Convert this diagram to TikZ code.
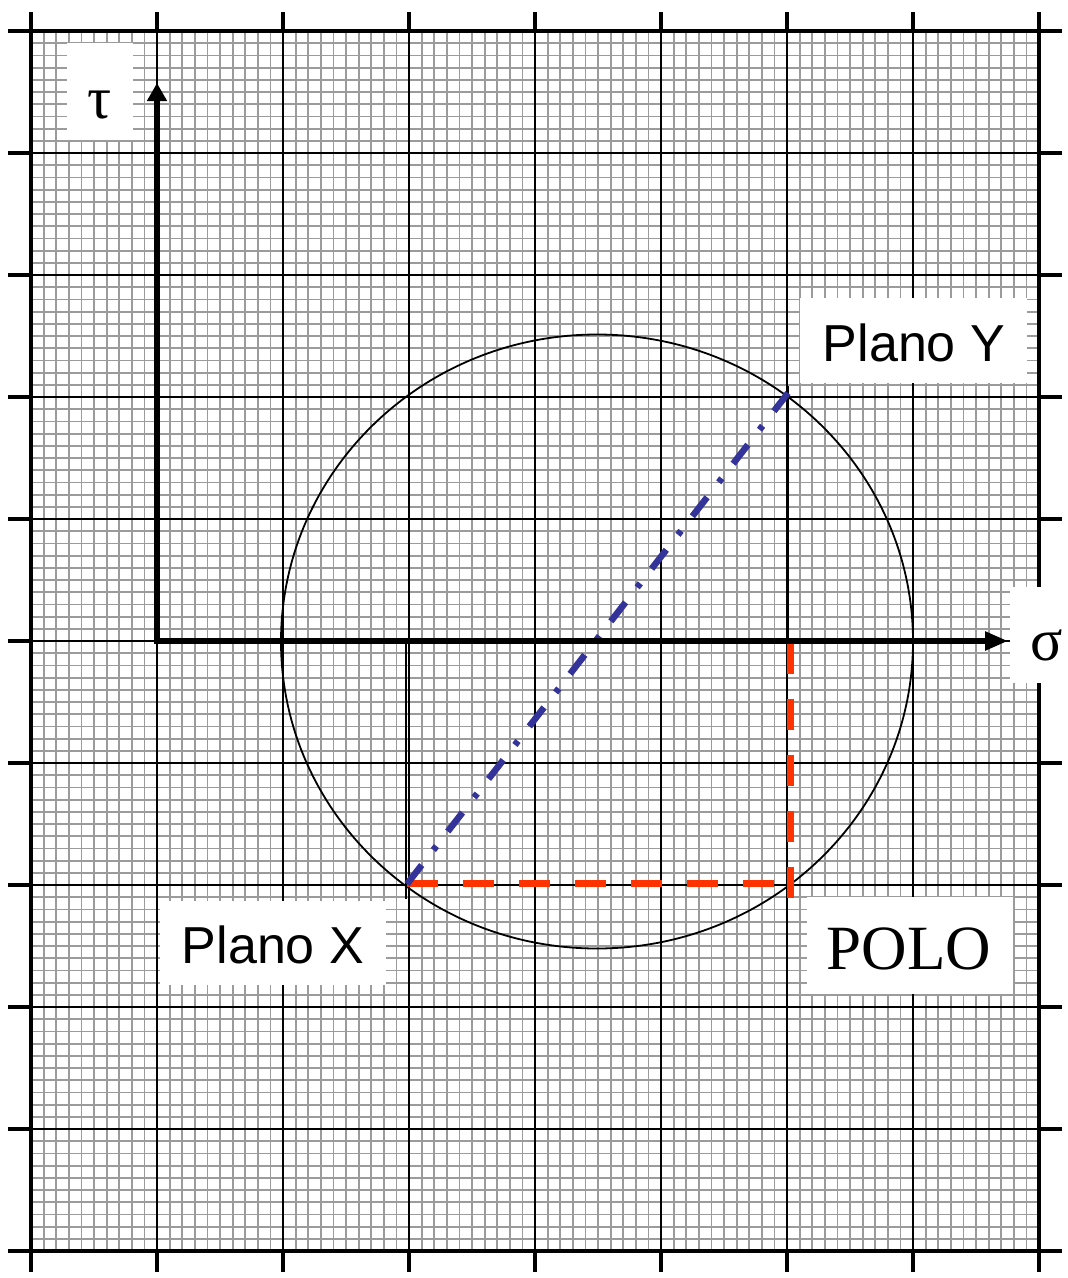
\documentclass[tikz,border=0pt]{standalone}
\usepackage{fontspec}
\setmainfont{Liberation Serif}
\newfontfamily\arialfont{Liberation Sans}
\usetikzlibrary{arrows.meta}
\definecolor{minorgray}{RGB}{155,155,155}
\definecolor{poloRed}{RGB}{255,51,0}
\definecolor{planeBlue}{RGB}{51,51,153}
\begin{document}
\begin{tikzpicture}[x=1pt,y=-1pt,
  minorline/.style={draw=minorgray,line width=1.8pt},
  majorline/.style={draw=black,line width=1.8pt},
  frameline/.style={draw=black,line width=4pt},
  axisline/.style={draw=black,line width=5.5pt,line join=miter},
  thinline/.style={draw=black,line width=1.8pt},
  redline/.style={draw=poloRed,line width=7pt,dash pattern=on 31pt off 25pt},
  blueline/.style={draw=planeBlue,line width=6.5pt,dash pattern=on 24pt off 19pt on 5pt off 18.5pt},
  labelbox/.style={fill=white,draw=none,inner sep=0pt},
  sanslabel/.style={font=\arialfont\fontsize{52}{60}\selectfont,inner sep=0pt,anchor=base},
  seriflabel/.style={font=\fontsize{63}{72}\selectfont,inner sep=0pt,anchor=base},
  greeklabel/.style={font=\fontsize{60}{70}\selectfont,inner sep=0pt,anchor=base},
]
\useasboundingbox (0,0) rectangle (1068,1278);
\fill[white] (0,0) rectangle (1068,1278);
% minor grid
\foreach \i in {1,...,79} {\draw[minorline] ({31+12.6*\i},31) -- ({31+12.6*\i},1251);}
\foreach \j in {1,...,99} {\draw[minorline] (31,{31+12.2*\j}) -- (1039,{31+12.2*\j});}
% major grid and ticks
\foreach \i in {1,...,7} {
  \draw[majorline] ({31+126*\i},31) -- ({31+126*\i},1251);
  \draw[frameline] ({31+126*\i},12) -- ({31+126*\i},31);
  \draw[frameline] ({31+126*\i},1251) -- ({31+126*\i},1272);
}
\foreach \j in {1,...,9} {
  \draw[majorline] (31,{31+122*\j}) -- (1039,{31+122*\j});
  \draw[frameline] (8,{31+122*\j}) -- (31,{31+122*\j});
  \draw[frameline] (1039,{31+122*\j}) -- (1062,{31+122*\j});
}
% frame
\draw[frameline] (31,12) -- (31,1272);
\draw[frameline] (1039,12) -- (1039,1272);
\draw[frameline] (8,31) -- (1062,31);
\draw[frameline] (8,1251) -- (1062,1251);
% key points
\coordinate (O) at (157,641);
\coordinate (Ttip) at (157,83);
\coordinate (Stip) at (1008,641);
\coordinate (C) at (597,641.5);
\coordinate (PX) at (407,884);
\coordinate (PY) at (788,393);
\coordinate (PXa) at (406,641);
\coordinate (PXb) at (406,899);
\coordinate (PYa) at (788,386);
\coordinate (PYb) at (788,641);
\coordinate (RH1) at (407,883);
\coordinate (RH2) at (790,883);
\coordinate (RV1) at (790,898);
\coordinate (RV2) at (790,643);
% Mohr circle
\draw[thinline] (C) ellipse [x radius=316pt, y radius=307pt];
% plane verticals
\draw[thinline] (PXa) -- (PXb);
\draw[thinline] (PYa) -- (PYb);
% pole construction
\draw[redline] (RH1) -- (RH2);
\draw[redline] (RV1) -- (RV2);
\draw[blueline] (PX) -- (PY);
% axes
\draw[axisline,{Triangle[length=18pt,width=19pt]}-{Triangle[length=23pt,width=18pt]}] (Ttip) -- (O) -- (Stip);
% labels
\node[labelbox,minimum width=66pt,minimum height=97pt] (taubox) at (100,91.5) {};
\node[greeklabel] (tau) at (100,118) {τ};
\node[labelbox,minimum width=58pt,minimum height=96pt] (sigmabox) at (1039,635) {};
\node[greeklabel] (sigma) at (1047,660) {σ};
\node[labelbox,minimum width=227pt,minimum height=85pt] (pyBox) at (913.5,340.5) {};
\node[sanslabel] (planoY) at (914,361) {Plano Y};
\node[labelbox,minimum width=226pt,minimum height=84pt] (pxBox) at (273,943) {};
\node[sanslabel] (planoX) at (273,963) {Plano X};
\node[labelbox,minimum width=206pt,minimum height=97pt] (poloBox) at (910,945.5) {};
\node[seriflabel] (polo) at (909,969) {POLO};
\end{tikzpicture}
\end{document}
